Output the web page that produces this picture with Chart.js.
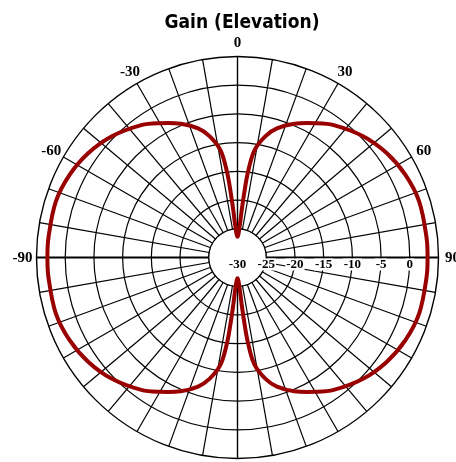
<!DOCTYPE html>
<html>
<head>
<meta charset="utf-8">
<title>Gain (Elevation)</title>
<script src="https://cdn.jsdelivr.net/npm/chart.js@4.4.1/dist/chart.umd.min.js"></script>
<style>
  html, body { margin: 0; padding: 0; background: #fff; }
  #wrap { width: 456px; height: 462px; }
</style>
</head>
<body>
<div id="wrap"><canvas id="gainChart" width="456" height="462"></canvas></div>
<script>
const sampleAngles = [
  0, 4, 5, 6, 7, 9, 13, 17, 23, 30, 36, 46, 55, 64, 73, 84, 90,
  96, 107, 116, 125, 134, 144, 150, 157, 163, 167, 171, 173, 174, 175, 176,
  180, 184, 185, 186, 187, 189, 193, 197, 203, 210, 216, 226, 235, 244, 253, 264, 270,
  276, 287, 296, 305, 314, 324, 330, 337, 343, 347, 351, 353, 354, 355, 356,
];
const sampleGain = [
  -26.4, -24.5, -22.0, -18.5, -15.0, -11.1, -8.3, -6.5, -4.7, -3.0, -1.5, 0.4, 1.7, 2.6, 3.1, 3.1, 3.1,
  3.1, 3.1, 2.6, 1.7, 0.4, -1.5, -3.0, -4.7, -6.5, -8.3, -11.1, -15.0, -18.5, -22.0, -24.5,
  -26.4, -24.5, -22.0, -18.5, -15.0, -11.1, -8.3, -6.5, -4.7, -3.0, -1.5, 0.4, 1.7, 2.6, 3.1, 3.1, 3.1,
  3.1, 3.1, 2.6, 1.7, 0.4, -1.5, -3.0, -4.7, -6.5, -8.3, -11.1, -15.0, -18.5, -22.0, -24.5,
];

const shownAngles = [0, 30, 60, 90, -30, -60, -90];
const tickValues = [-30, -25, -20, -15, -10, -5, 0];

const SCALE_MIN = -30;
const SCALE_MAX = 5;
const HOLE_VALUE = -25;

// one category per degree so the samples sit at their own angle
const angleLabels = [];
for (let d = 0; d < 360; d++) angleLabels.push(d <= 180 ? d : d - 360);

const gainData = angleLabels.map(() => null);
sampleAngles.forEach((a, i) => {
  gainData[a % 360] = sampleGain[i];
});

const polarDecor = {
  id: "polarDecor",
  beforeDatasetsDraw(chart) {
    // blank centre, the grid starts at the -25 ring
    const scale = chart.scales.r;
    const ctx = chart.ctx;
    const holeR = scale.getDistanceFromCenterForValue(HOLE_VALUE);
    ctx.save();
    ctx.beginPath();
    ctx.arc(scale.xCenter, scale.yCenter, holeR, 0, Math.PI * 2);
    ctx.fillStyle = "#fff";
    ctx.fill();
    ctx.lineWidth = 1.2;
    ctx.strokeStyle = "#000";
    ctx.stroke();
    ctx.restore();
  },
  afterDatasetsDraw(chart) {
    const scale = chart.scales.r;
    const ctx = chart.ctx;
    ctx.save();
    ctx.fillStyle = "#000";
    ctx.textAlign = "center";
    ctx.textBaseline = "middle";

    // angle labels round the rim
    ctx.font = 'bold 15px "Liberation Serif", "DejaVu Serif", serif';
    shownAngles.forEach((a) => {
      const index = angleLabels.indexOf(a);
      const pos = scale.getPointPosition(index, scale.drawingArea + 14);
      ctx.fillText(String(a), pos.x, pos.y + 1);
    });

    // dB labels along the right half of the horizontal axis
    ctx.font = 'bold 13px "Liberation Serif", "DejaVu Serif", serif';
    tickValues.forEach((v) => {
      const x = scale.xCenter + scale.getDistanceFromCenterForValue(v);
      const y = scale.yCenter + 7;
      const text = String(v);
      const w = ctx.measureText(text).width;
      if (v !== SCALE_MIN) {
        ctx.fillStyle = "#fff";
        ctx.fillRect(x - w / 2 - 1, y - 6, w + 2, 12);
        ctx.fillStyle = "#000";
      }
      ctx.fillText(text, x, y);
    });
    ctx.restore();
  },
};

new Chart(document.getElementById("gainChart"), {
  type: "radar",
  data: {
    labels: angleLabels,
    datasets: [
      {
        label: "Gain",
        data: gainData,
        borderColor: "#990000",
        backgroundColor: "rgba(0,0,0,0)",
        borderWidth: 4,
        pointRadius: 0,
        fill: false,
        spanGaps: true,
        tension: 0.35,
      },
    ],
  },
  options: {
    responsive: false,
    animation: false,
    layout: { padding: { left: 28 } },
    plugins: {
      legend: { display: false },
      tooltip: { enabled: false },
      title: {
        display: true,
        text: "Gain (Elevation)",
        color: "#000",
        font: { family: '"Liberation Sans Narrow", "DejaVu Sans Condensed", "Liberation Sans", sans-serif', size: 19, weight: "bold" },
        padding: { top: 12, bottom: 4 },
      },
    },
    scales: {
      r: {
        min: SCALE_MIN,
        max: SCALE_MAX,
        startAngle: 0,
        ticks: { stepSize: 5, display: false },
        pointLabels: { display: false },
        grid: {
          circular: true,
          color: "#000",
          lineWidth: (ctx) => (ctx.index === 7 ? 1.4 : 1.2),
        },
        angleLines: {
          color: (ctx) => (ctx.index % 10 === 0 ? "#000" : "rgba(0,0,0,0)"),
          lineWidth: (ctx) => {
            if (ctx.index === 90 || ctx.index === 270) return 2;
            if (ctx.index === 0 || ctx.index === 180) return 1.4;
            return 1.2;
          },
        },
        afterFit(scale) {
          scale.xCenter = 237.5;
          scale.yCenter = 257.5;
          scale.drawingArea = 201;
        },
      },
    },
  },
  plugins: [polarDecor],
});
</script>
</body>
</html>
